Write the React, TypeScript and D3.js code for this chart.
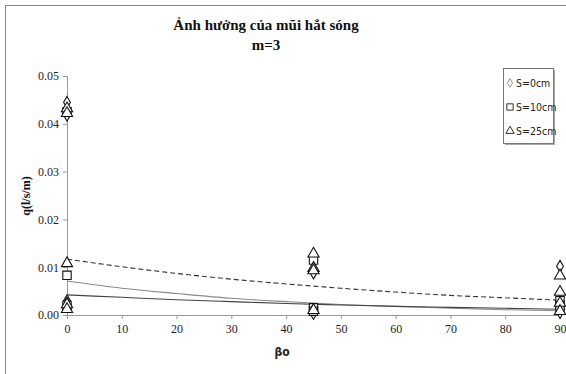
import React, { useEffect, useRef } from 'react';
import * as d3 from 'd3';

// measured points, by angle beta (deg)
const betas = [0, 45, 90];
const s0 = [
	[0.0445, 0.0418, 0.003, 0.0025],
	[0.0088, 0.0005, 0.0003],
	[0.0102, 0.0015, 0.0005]
];
const s10 = [
	[0.0425, 0.0083, 0.002],
	[0.0115, 0.0015, 0.0008],
	[0.003, 0.002, 0.001]
];
const s25 = [
	[0.0432, 0.0422, 0.0108, 0.0022, 0.0012],
	[0.0128, 0.0098, 0.0093, 0.001],
	[0.0082, 0.0048, 0.0025, 0.0008]
];

// trend lines at every 10 deg
const trendX = [0, 10, 20, 30, 40, 50, 60, 70, 80, 90];
const trendDashed = [0.0117, 0.0101, 0.0087, 0.0075, 0.0065, 0.0056, 0.0048, 0.0041, 0.0036, 0.0031];
const trendUpper = [0.0071, 0.0056, 0.0045, 0.0035, 0.0028, 0.0022, 0.0018, 0.0014, 0.0011, 0.0009];
const trendLower = [0.0042, 0.0037, 0.0032, 0.0028, 0.0024, 0.0021, 0.0018, 0.0016, 0.0014, 0.0012];

const xTicks = [0, 10, 20, 30, 40, 50, 60, 70, 80, 90];
const yTicks = [0, 0.01, 0.02, 0.03, 0.04, 0.05];
const legendLabels = ['S=0cm', 'S=10cm', 'S=25cm'];

const App = () => {
	const ref = useRef(null);

	useEffect(() => {
		const svg = d3.select(ref.current);
		svg.selectAll('*').remove();

		const x = d3.scaleLinear().domain([0, 90]).range([67, 560]);
		const y = d3.scaleLinear().domain([0, 0.05]).range([315, 76]);
		const serif = 'Liberation Serif, Times New Roman, DejaVu Serif, serif';
		const sans = 'DejaVu Sans Condensed, Liberation Sans Narrow, Liberation Sans, sans-serif';

		svg.append('rect')
			.attr('x', 5.5)
			.attr('y', 5.5)
			.attr('width', 600)
			.attr('height', 420)
			.attr('fill', 'white')
			.attr('stroke', '#888');

		// title
		const title = svg.append('text')
			.attr('text-anchor', 'middle')
			.attr('font-family', serif)
			.attr('font-weight', 'bold')
			.attr('font-size', 15)
			.attr('fill', '#111');
		title.append('tspan').attr('x', 266).attr('y', 30).text('Ảnh hưởng của mũi hắt sóng');
		title.append('tspan').attr('x', 266).attr('y', 50).text('m=3');

		// axes
		const yAxis = svg.append('g')
			.attr('transform', `translate(${x(0)},0)`)
			.call(d3.axisLeft(y).tickValues(yTicks).tickFormat(d3.format('.2f')).tickSize(4).tickSizeOuter(4));
		const xAxis = svg.append('g')
			.attr('transform', `translate(0,${y(0)})`)
			.call(d3.axisBottom(x).tickValues(xTicks).tickSize(4).tickSizeOuter(0));
		[xAxis, yAxis].forEach(a => {
			a.attr('font-family', serif).attr('font-size', 12);
			a.selectAll('path, line').attr('stroke', '#999');
			a.selectAll('text').attr('fill', '#222');
		});
		yAxis.selectAll('text').attr('x', -8);
		xAxis.selectAll('text').attr('y', 9);

		svg.append('text')
			.attr('transform', 'translate(30,196) rotate(-90)')
			.attr('text-anchor', 'middle')
			.attr('font-family', serif)
			.attr('font-weight', 'bold')
			.attr('font-size', 12)
			.attr('fill', '#111')
			.text('q(l/s/m)');

		svg.append('text')
			.attr('x', 282)
			.attr('y', 356)
			.attr('text-anchor', 'middle')
			.attr('font-family', sans)
			.attr('font-weight', 'bold')
			.attr('font-size', 12)
			.attr('fill', '#222')
			.text('βo');

		// trend lines
		const line = d3.line()
			.x(d => x(d[0]))
			.y(d => y(d[1]))
			.curve(d3.curveMonotoneX);
		const trends = [
			{ v: trendUpper, color: '#8a8a8a', dash: null },
			{ v: trendLower, color: '#444', dash: null },
			{ v: trendDashed, color: '#333', dash: '5,3' }
		];
		trends.forEach(t => {
			svg.append('path')
				.datum(trendX.map((b, i) => [b, t.v[i]]))
				.attr('d', line)
				.attr('fill', 'none')
				.attr('stroke', t.color)
				.attr('stroke-width', 1.1)
				.attr('stroke-dasharray', t.dash);
		});

		// points
		const series = [
			{ vals: s0, sym: d3.symbolDiamond, size: 40 },
			{ vals: s10, sym: d3.symbolSquare, size: 70 },
			{ vals: s25, sym: d3.symbolTriangle, size: 55 }
		];
		series.forEach(s => {
			const pts = [];
			s.vals.forEach((arr, i) => arr.forEach(v => pts.push([betas[i], v])));
			svg.append('g')
				.selectAll('path')
				.data(pts)
				.enter()
				.append('path')
				.attr('transform', d => `translate(${x(d[0])},${y(d[1])})`)
				.attr('d', d3.symbol().type(s.sym).size(s.size))
				.attr('fill', 'white')
				.attr('stroke', '#111')
				.attr('stroke-width', 1.1);
		});

		// legend
		svg.append('rect')
			.attr('x', 505)
			.attr('y', 70)
			.attr('width', 50)
			.attr('height', 75)
			.attr('fill', '#aaa');
		svg.append('rect')
			.attr('x', 503.5)
			.attr('y', 68.5)
			.attr('width', 50)
			.attr('height', 75)
			.attr('fill', 'white')
			.attr('stroke', '#777');
		const legSyms = [
			{ sym: d3.symbolDiamond, size: 22, color: '#999' },
			{ sym: d3.symbolSquare, size: 40, color: '#333' },
			{ sym: d3.symbolTriangle, size: 30, color: '#333' }
		];
		legendLabels.forEach((lab, i) => {
			const ly = 83 + i * 24;
			svg.append('path')
				.attr('transform', `translate(510,${ly})`)
				.attr('d', d3.symbol().type(legSyms[i].sym).size(legSyms[i].size))
				.attr('fill', 'white')
				.attr('stroke', legSyms[i].color);
			svg.append('text')
				.attr('x', 516)
				.attr('y', ly + 4)
				.attr('font-family', sans)
				.attr('font-size', 10.5)
				.attr('fill', '#222')
				.text(lab);
		});
	}, []);

	return (
		<svg
			ref={ref}
			width={566}
			height={374}
			style={{ position: 'absolute', left: 0, top: 0, display: 'block' }}
		/>
	);
};

export default App;
